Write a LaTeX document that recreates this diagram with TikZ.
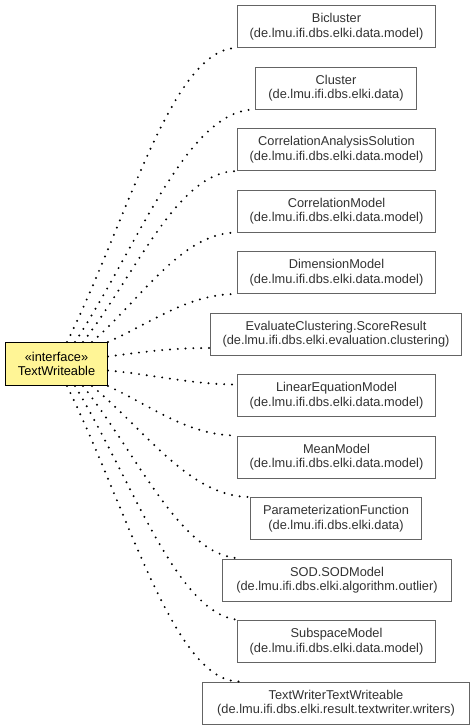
\documentclass[tikz,border=0pt]{standalone}
\usepackage{fontspec}
\setmainfont{Liberation Sans}
\definecolor{ifill}{RGB}{255,245,150}
\definecolor{bord}{RGB}{100,100,100}
\definecolor{txt}{RGB}{50,50,50}
\tikzset{
  cls/.style={draw=bord, line width=1pt, fill=white, text=txt, anchor=north west,
    minimum height=42pt, inner sep=0pt, align=center,
    font=\fontsize{12.8}{14.5}\selectfont},
  iface/.style={draw=black, line width=1pt, fill=ifill, text=black, anchor=north west,
    minimum width=102pt, minimum height=43pt, inner sep=0pt, align=center,
    font=\fontsize{12.8}{14.5}\selectfont},
  dep/.style={draw=black, line width=2.2pt, line cap=round, dash pattern=on 0pt off 7.8pt}
}
\begin{document}
\begin{tikzpicture}[x=1pt,y=-1pt]
\useasboundingbox (0,0) rectangle (475,728);
\node[iface] (tw) at (5,342) {«interface»\\TextWriteable};
\node[cls, minimum width=198pt] (bic) at (237,5) {Bicluster\\(de.lmu.ifi.dbs.elki.data.model)};
\node[cls, minimum width=161pt] (clu) at (255,66.5) {Cluster\\(de.lmu.ifi.dbs.elki.data)};
\node[cls, minimum width=198pt] (cas) at (237,128) {CorrelationAnalysisSolution\\(de.lmu.ifi.dbs.elki.data.model)};
\node[cls, minimum width=198pt] (cm) at (237,189.5) {CorrelationModel\\(de.lmu.ifi.dbs.elki.data.model)};
\node[cls, minimum width=198pt] (dm) at (237,251) {DimensionModel\\(de.lmu.ifi.dbs.elki.data.model)};
\node[cls, minimum width=251pt] (ev) at (210,312.5) {EvaluateClustering.ScoreResult\\(de.lmu.ifi.dbs.elki.evaluation.clustering)};
\node[cls, minimum width=198pt] (lin) at (237,374) {LinearEquationModel\\(de.lmu.ifi.dbs.elki.data.model)};
\node[cls, minimum width=198pt] (mean) at (237,435.5) {MeanModel\\(de.lmu.ifi.dbs.elki.data.model)};
\node[cls, minimum width=171pt] (par) at (250,497) {ParameterizationFunction\\(de.lmu.ifi.dbs.elki.data)};
\node[cls, minimum width=229pt] (sod) at (222,558.5) {SOD.SODModel\\(de.lmu.ifi.dbs.elki.algorithm.outlier)};
\node[cls, minimum width=198pt] (sub) at (237,620) {SubspaceModel\\(de.lmu.ifi.dbs.elki.data.model)};
\node[cls, minimum width=267pt] (twtw) at (202,681.5) {TextWriterTextWriteable\\(de.lmu.ifi.dbs.elki.result.textwriter.writers)};
% upper edges
\draw[dep] ([xshift=62pt]tw.north west) .. controls +(60,-121) and +(-65,0) .. (bic.south west);
\draw[dep] ([xshift=70pt]tw.north west) .. controls +(63,-96) and +(-68,0) .. (clu.south west);
\draw[dep] ([xshift=78pt]tw.north west) .. controls +(54,-70) and +(-59,0) .. (cas.south west);
\draw[dep] ([xshift=87pt]tw.north west) .. controls +(51,-45) and +(-55,0) .. (cm.south west);
\draw[dep] (tw.north east) .. controls +(45,-20) and +(-49,0) .. (dm.south west);
% side edges
\draw[dep] ([yshift=7.5pt]tw.east) .. controls +(40,-5) and +(-40,0) .. ([yshift=-14pt]ev.west);
\draw[dep] ([yshift=-6.5pt]tw.east) .. controls +(45,4) and +(-45,0) .. ([yshift=11pt]lin.west);
% lower edges
\draw[dep] (tw.south east) .. controls +(45,21) and +(-49,0) .. (mean.north west);
\draw[dep] ([xshift=87pt]tw.south west) .. controls +(55,46) and +(-60,0) .. (par.north west);
\draw[dep] ([xshift=78pt]tw.south west) .. controls +(56,71) and +(-60,0) .. ([xshift=20pt]sod.north west);
\draw[dep] ([xshift=70pt]tw.south west) .. controls +(58,96) and +(-63,0) .. ([xshift=5pt]sub.north west);
\draw[dep] ([xshift=62pt]tw.south west) .. controls +(60,122) and +(-65,0) .. ([xshift=37pt]twtw.north west);
\end{tikzpicture}
\end{document}
